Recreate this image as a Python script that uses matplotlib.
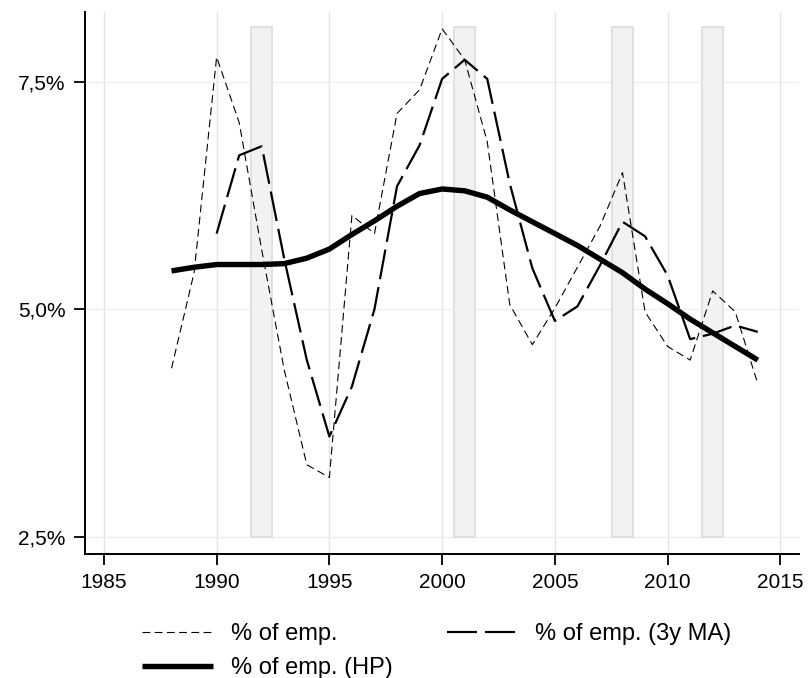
import matplotlib
matplotlib.use("Agg")
import matplotlib.pyplot as plt
from matplotlib.ticker import FuncFormatter

plt.rcParams['font.family'] = ['Liberation Sans', 'DejaVu Sans']

# ── Data ───────────────────────────────────────────
years = list(range(1988, 2015))

emp = [4.35, 5.40, 7.77, 7.05, 5.65, 4.33, 3.29, 3.15, 6.03, 5.83,
       7.15, 7.41, 8.08, 7.74, 6.84, 5.05, 4.61, 5.01, 5.46, 5.91,
       6.50, 4.97, 4.59, 4.44, 5.20, 4.97, 4.18]

ma_years = list(range(1990, 2015))
emp_ma = [5.83, 6.69, 6.79, 5.55, 4.44, 3.60, 4.15, 5.00, 6.35, 6.80,
          7.53, 7.74, 7.53, 6.38, 5.45, 4.87, 5.03, 5.48, 5.96, 5.80,
          5.37, 4.67, 4.73, 4.82, 4.75]

emp_hp = [5.42, 5.46, 5.49, 5.49, 5.49, 5.50, 5.56, 5.66, 5.82, 5.97,
          6.13, 6.27, 6.32, 6.30, 6.23, 6.09, 5.96, 5.83, 5.70, 5.55,
          5.40, 5.22, 5.06, 4.89, 4.74, 4.59, 4.44]

recession_years = [1992, 2001, 2008, 2012]
recession_top = 8.1
recession_bottom = 2.5

xticks = [1985, 1990, 1995, 2000, 2005, 2010, 2015]
yticks = [2.5, 5.0, 7.5]

# ── Figure ─────────────────────────────────────────
fig = plt.figure(figsize=(8.09, 6.78), dpi=100)
ax = fig.add_axes([0.105, 0.183, 0.883, 0.800])

ax.bar(recession_years, recession_top - recession_bottom, width=0.95,
       bottom=recession_bottom, color='#f2f2f2', edgecolor='#dedede',
       linewidth=1.3, zorder=1)

ax.plot(years, emp, color='black', lw=0.8, dashes=(7, 4),
        label='% of emp.', zorder=3)
ax.plot(years, emp_hp, color='black', lw=3.9, solid_capstyle='butt',
        label='% of emp. (HP)', zorder=4)
ax.plot(ma_years, emp_ma, color='black', lw=1.6, dashes=(13.5, 3.6),
        label='% of emp. (3y MA)', zorder=3)

ax.set_xlim(1984.16, 2015.84)
ax.set_ylim(2.31, 8.27)
ax.set_xticks(xticks)
ax.set_yticks(yticks)
ax.yaxis.set_major_formatter(FuncFormatter(lambda v, p: f"{v:.1f}%".replace('.', ',')))

for x in xticks:
    ax.axvline(x, color='#e4e4e4', lw=1.0, zorder=0)
for y in yticks:
    ax.axhline(y, color='#e8f0f0', lw=1.0, zorder=0)

for s in ['top', 'right']:
    ax.spines[s].set_visible(False)
for s in ['left', 'bottom']:
    ax.spines[s].set_linewidth(1.4)

ax.tick_params(axis='both', labelsize=15, width=1.3, length=8, pad=6)

fig.legend(loc='upper left', bbox_to_anchor=(0.1755, 0.081),
           ncol=2, frameon=False, fontsize=17, handlelength=3.0,
           columnspacing=2.3, handletextpad=0.75, labelspacing=0.5,
           borderpad=0, borderaxespad=0)

fig.savefig('out.png', dpi=100)
